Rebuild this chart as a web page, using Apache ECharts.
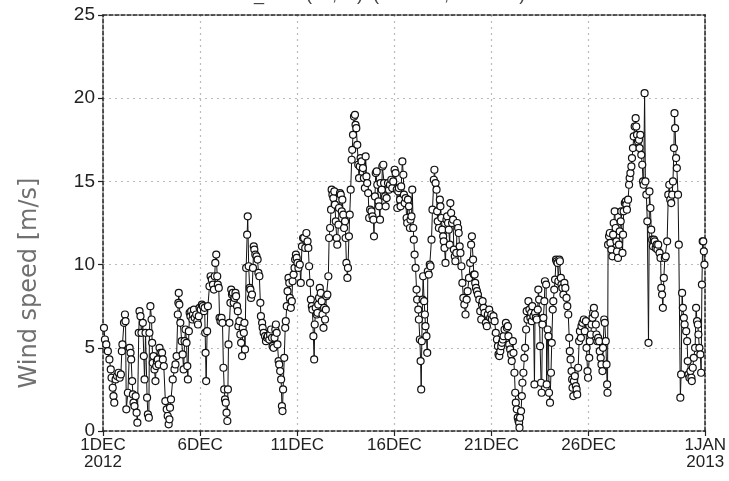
<!DOCTYPE html>
<html>
<head>
<meta charset="utf-8">
<script src="https://cdn.jsdelivr.net/npm/echarts@6/dist/echarts.min.js"></script>
<style>html,body{margin:0;padding:0;background:#fff;}#c{width:729px;height:481px;}</style>
</head>
<body>
<div id="c"></div>
<script>
// x: days since 1 DEC 2012 00Z, y: wind speed [m/s]
const tickDays = [0, 5, 10, 15, 20, 25, 31];
const tickLabels = ['1DEC\n2012', '6DEC', '11DEC', '16DEC', '21DEC', '26DEC', '1JAN\n2013'];
const speedTicks = [0, 5, 10, 15, 20, 25];
const titleText = 'CU_W 0. (32,39)  (33.9252, 32.5257)';
const yTitle = 'Wind speed [m/s]';

const week1 = [
[0.05,6.2],[0.1,5.5],[0.17,5.2],[0.25,4.8],[0.33,4.3],[0.4,3.7],[0.44,3.2],[0.5,2.6],[0.54,2.1],[0.58,1.7],
[0.65,3.1],[0.72,3.3],[0.8,3.5],[0.86,3.2],[0.92,3.4],[0.97,4.8],[1.0,5.2],[1.08,6.5],[1.13,7.0],[1.16,6.6],
[1.2,1.3],[1.28,2.3],[1.37,5.0],[1.42,4.7],[1.45,4.3],[1.5,3.0],[1.54,2.2],[1.57,1.7],[1.62,1.5],[1.68,2.1],[1.73,1.1],[1.77,0.5],
[1.84,5.9],[1.88,7.2],[1.93,6.9],[1.98,5.9],[2.05,6.5],[2.1,4.5],[2.14,3.1],[2.19,5.9],[2.27,2.0],[2.31,1.0],[2.36,0.8],
[2.39,5.9],[2.44,7.5],[2.5,6.7],[2.53,5.3],[2.56,4.1],[2.6,4.5],[2.65,3.7],[2.7,3.0],[2.74,3.9],[2.77,4.2],[2.82,4.3],[2.87,4.0],[2.91,5.0],[2.96,4.7],[3.04,4.7],[3.08,4.3],[3.13,3.9],
[3.21,1.8],[3.28,1.3],[3.33,0.9],[3.38,0.4],[3.42,0.7],[3.45,1.4],[3.5,1.9],
[3.59,3.1],[3.68,3.7],[3.73,4.0],[3.79,4.5],[3.85,7.0],[3.88,7.7],[3.9,8.3],[3.93,7.6],[3.98,6.5],[4.05,5.4],[4.1,4.6],[4.15,3.7],[4.2,5.4],[4.25,6.1],[4.3,5.3],[4.34,3.9],[4.37,3.1],
[4.42,6.0],[4.46,7.1],[4.5,6.9],[4.54,7.2],[4.6,6.7],[4.63,7.0],[4.68,7.3],[4.72,6.8],[4.8,7.0],[4.85,6.6],[4.89,6.4],[4.93,6.9],[4.97,7.4],[5.03,7.3],[5.09,7.6],[5.14,7.5],[5.2,7.2],[5.23,7.4],
[5.26,5.9],[5.28,4.7],[5.31,3.0],[5.36,6.0],[5.4,7.5],[5.48,8.7],[5.54,9.3],[5.6,9.1],[5.66,8.8],[5.71,8.5],[5.75,9.3],[5.78,10.1],[5.83,10.6],[5.88,9.3],[5.91,8.8],[5.96,8.6],
[6.0,6.8],[6.05,6.6],[6.1,6.8],[6.15,6.5],[6.2,3.8],[6.24,2.5],[6.28,1.9],[6.32,1.7],[6.36,1.1],[6.4,0.6],
[6.43,2.5],[6.46,5.2],[6.51,6.5],[6.56,7.7],[6.6,8.5],[6.64,8.2],[6.68,8.3],[6.73,7.7],[6.77,8.0],[6.82,8.3],[6.85,8.1],[6.9,7.5],[6.94,7.2],[6.97,6.3]
];
const week2 = [
[7.02,6.6],[7.07,5.8],[7.11,5.3],[7.16,4.5],[7.19,6.2],[7.25,5.9],[7.28,6.5],[7.31,4.9],
[7.37,9.8],[7.42,11.8],[7.45,12.9],[7.5,9.9],[7.55,8.6],[7.59,8.5],[7.62,8.0],[7.67,8.2],[7.72,9.8],[7.76,11.1],[7.79,10.9],[7.84,10.6],[7.9,10.5],[7.96,10.3],[8.0,9.5],[8.05,9.3],[8.1,7.7],[8.13,6.9],[8.19,6.5],[8.22,6.2],[8.27,5.9],[8.34,5.7],[8.39,5.4],[8.44,5.6],[8.48,5.7],[8.56,5.5],[8.6,5.8],[8.65,6.1],[8.7,5.6],[8.73,5.1],
[8.78,5.0],[8.83,5.6],[8.87,6.1],[8.9,6.4],[8.94,5.9],[8.98,5.2],[9.04,4.2],[9.07,4.0],[9.12,3.6],[9.17,3.1],[9.21,1.5],[9.24,1.2],[9.27,2.5],
[9.33,4.4],[9.38,6.2],[9.41,6.6],[9.46,7.5],[9.5,8.4],[9.55,9.2],[9.59,8.9],[9.62,8.0],[9.67,7.4],[9.72,7.8],[9.76,9.0],[9.81,9.4],[9.86,9.8],[9.89,10.3],[9.93,10.6],[9.97,10.4],[10.01,10.1],[10.06,9.8],[10.13,10.0],[10.18,8.9],[10.24,11.1],[10.3,11.6],[10.35,11.6],[10.41,11.0],[10.47,11.9],[10.53,11.4],[10.57,11.0],[10.61,9.9],[10.66,8.9],[10.7,7.9],[10.75,7.5],[10.78,7.3],[10.83,5.7],[10.87,4.3],
[10.9,6.4],[10.95,7.4],[11.0,7.0],[11.04,7.1],[11.08,7.6],[11.12,8.0],[11.16,8.6],[11.21,8.3],[11.26,7.8],[11.3,7.0],[11.35,6.2],[11.38,7.4],[11.43,6.7],[11.47,7.3],[11.5,8.1],[11.55,8.2],[11.6,9.3],[11.64,11.6],[11.69,12.2],[11.74,13.3],[11.77,14.5],
[11.81,14.2],[11.86,14.0],[11.91,14.4],[11.94,13.6],[11.98,12.6],[12.03,11.6],[12.06,11.2],[12.12,12.4],[12.15,13.4],[12.2,14.3],[12.24,14.2],[12.29,13.2],[12.32,13.9],[12.37,13.0],[12.41,12.2],[12.46,12.6],[12.49,11.6],[12.53,10.1],[12.58,9.2],[12.61,9.8],
[12.66,11.7],[12.7,13.0],[12.75,14.5],[12.8,16.3],[12.83,16.9],[12.87,17.8],[12.92,18.9],[12.97,19.0],[13.0,18.4],[13.04,18.2],[13.09,17.2],[13.14,16.0],[13.18,15.2],[13.22,15.9],[13.26,16.4],[13.31,16.2],[13.38,15.8],[13.43,15.2],[13.48,14.6],
[13.52,16.5],[13.56,15.3],[13.6,14.9],[13.65,14.3],[13.7,12.8],[13.75,13.3],[13.82,13.2],[13.87,12.9],[13.92,12.7],[13.95,11.7]
];
const week3 = [
[14.0,14.1],[14.04,15.5],[14.09,15.6],[14.12,14.8],[14.18,13.8],[14.21,13.5],[14.26,12.7],[14.29,14.9],[14.35,14.5],[14.38,15.9],[14.43,16.0],[14.47,14.9],[14.52,14.1],[14.55,13.5],[14.6,14.0],[14.67,14.9],[14.72,14.5],[14.77,14.8],[14.84,15.1],[14.89,14.6],[14.94,15.0],[15.01,15.7],[15.06,15.5],[15.12,14.5],[15.15,13.4],
[15.2,14.4],[15.23,14.6],[15.29,13.9],[15.32,13.5],[15.35,14.7],[15.41,16.2],[15.46,15.4],[15.49,14.2],[15.53,13.7],[15.58,14.0],[15.63,12.8],[15.66,12.5],[15.7,13.9],[15.75,13.5],[15.8,12.2],[15.83,12.7],[15.88,12.9],[15.92,14.5],
[15.97,12.2],[16.0,11.5],[16.04,10.6],[16.09,9.8],[16.14,8.5],[16.17,7.9],[16.23,7.3],[16.26,6.7],[16.31,5.5],[16.35,4.2],[16.38,2.5],
[16.41,5.4],[16.45,7.9],[16.48,9.3],[16.53,7.8],[16.57,7.0],[16.6,6.3],[16.65,5.7],[16.69,4.7],[16.72,9.6],[16.77,9.4],[16.82,10.0],[16.86,9.9],[16.91,11.5],[16.96,13.3],[17.03,15.1],[17.06,15.7],
[17.12,14.9],[17.17,14.5],[17.2,13.2],[17.23,12.6],[17.29,12.2],[17.34,13.9],[17.37,13.5],[17.42,12.8],[17.46,12.1],[17.51,11.7],[17.54,11.4],[17.58,11.0],[17.63,10.1],[17.68,12.7],[17.71,12.9],[17.76,12.5],[17.8,12.1],[17.85,11.2],[17.88,13.7],[17.92,13.1],[17.97,12.5],[18.02,12.7],[18.06,10.9],[18.11,10.5],[18.14,10.2],[18.19,10.7],[18.23,12.5],[18.28,12.2],[18.31,11.9],[18.36,11.1],[18.4,10.7],
[18.45,9.9],[18.5,8.9],[18.55,8.0],[18.6,7.6],[18.66,7.0],[18.72,7.9],[18.77,8.4],[18.84,9.2],[18.9,10.1],[18.95,11.2],[18.99,11.7],
[19.05,10.3],[19.09,9.4],[19.13,9.4],[19.16,8.9],[19.2,8.6],[19.25,8.4],[19.3,8.2],[19.37,7.9],[19.42,7.2],[19.47,6.7],[19.51,7.6],[19.54,7.8],[19.59,7.4],[19.64,7.1],[19.71,6.5],[19.76,6.3],[19.81,7.0],[19.88,7.3],[19.93,6.8],[19.99,7.0],[20.02,6.7],[20.1,6.9],[20.16,6.6],
[20.22,5.9],[20.28,5.5],[20.33,5.1],[20.36,4.6],[20.4,4.5],[20.45,4.8],[20.5,5.1],[20.53,5.3],[20.58,5.5],[20.62,5.7],[20.67,6.1],[20.74,6.5],[20.79,6.2],[20.84,6.3],[20.87,5.7],[20.91,5.2],[20.96,4.9]
];
const week4 = [
[21.01,4.6],[21.04,4.2],[21.1,5.4],[21.13,4.7],[21.18,3.5],[21.22,2.3],[21.25,1.7],[21.3,1.3],[21.35,0.8],[21.39,0.6],[21.42,0.5],[21.44,0.2],[21.47,0.8],[21.52,1.2],[21.56,2.1],[21.59,2.9],[21.64,3.5],[21.69,4.4],[21.73,5.0],[21.78,6.1],[21.81,7.2],
[21.85,6.7],[21.9,7.8],[21.95,7.3],[22.0,6.8],[22.04,7.1],[22.07,6.6],[22.1,7.5],[22.16,6.9],[22.21,2.8],[22.24,7.1],[22.28,6.8],[22.33,6.7],[22.38,7.3],[22.41,8.5],[22.45,7.9],[22.5,5.1],[22.55,2.9],[22.58,2.3],[22.62,6.4],[22.67,6.8],[22.72,7.8],[22.75,9.0],[22.81,8.8],[22.84,2.8],[22.89,6.1],[22.93,5.7],[22.96,2.3],[23.01,1.7],[23.06,3.5],[23.1,5.3],[23.15,7.3],[23.18,7.8],[23.23,8.5],[23.27,9.1],[23.32,10.3],[23.35,10.2],[23.4,10.1],
[23.44,9.0],[23.49,10.3],[23.52,10.2],[23.57,9.2],[23.6,8.8],[23.65,8.6],[23.7,8.2],[23.75,8.9],[23.8,8.6],[23.86,8.0],[23.9,7.5],[23.95,7.0],[24.0,5.6],[24.03,4.8],[24.07,4.3],[24.12,3.6],[24.15,3.1],[24.17,2.6],[24.21,2.1],[24.24,3.0],[24.29,3.3],[24.34,2.7],[24.38,2.5],[24.41,2.2],
[24.46,3.8],[24.51,5.4],[24.55,6.0],[24.6,5.6],[24.63,6.3],[24.68,6.5],[24.75,6.7],[24.8,6.0],[24.86,6.6],[24.89,5.0],[24.94,3.6],[24.97,3.2],[25.03,4.4],[25.06,5.4],[25.11,5.8],[25.15,6.4],[25.2,6.8],[25.23,7.1],[25.27,7.4],[25.32,7.0],[25.37,6.4],[25.4,5.8],[25.45,5.4],[25.49,5.6],[25.54,5.4],[25.57,4.8],[25.62,4.4],[25.66,4.0],[25.71,3.6],[25.74,5.0],[25.8,6.7],[25.83,6.5],[25.88,5.4],[25.92,4.0],[25.95,2.8],[25.97,2.3],
[26.0,11.2],[26.05,11.7],[26.09,11.9],[26.12,11.3],[26.17,10.9],[26.22,10.5],[26.26,11.8],[26.29,12.5],[26.34,13.2],[26.39,12.2],[26.43,11.4],[26.46,10.8],[26.51,10.4],[26.56,11.2],[26.6,12.0],[26.65,12.6],[26.68,13.2],[26.74,10.7],[26.77,11.8],[26.8,13.2],[26.86,13.7],[26.91,13.8],[26.94,13.6],[26.97,13.3],
[27.03,13.9],[27.08,14.8],[27.11,15.2],[27.15,15.5],[27.2,15.9],[27.23,16.4],[27.28,17.0],[27.32,17.7],[27.37,18.3],[27.42,18.8],[27.45,18.3],[27.49,17.8],[27.54,17.4],[27.59,17.5],[27.62,17.0],[27.66,17.8],[27.71,16.6],[27.76,16.0],[27.8,15.0],[27.83,14.8],[27.88,20.3],[27.92,15.0],[27.97,14.2]
];
const week5 = [
[28.02,12.6],[28.08,5.3],[28.13,14.4],[28.18,13.4],[28.22,12.1],[28.27,11.5],[28.31,11.1],[28.36,11.5],[28.4,11.4],[28.45,11.0],[28.5,11.2],[28.54,10.9],[28.58,11.2],[28.65,10.7],[28.7,10.4],[28.74,8.6],[28.78,8.2],[28.82,7.4],[28.87,9.2],[28.92,10.4],[28.97,10.5],
[29.04,11.4],[29.1,14.2],[29.15,14.8],[29.2,13.9],[29.25,13.7],[29.3,14.2],[29.34,15.0],[29.39,17.0],[29.42,19.1],[29.45,18.2],[29.5,16.4],[29.54,15.8],[29.6,14.2],[29.64,11.2],[29.72,2.0],[29.76,3.4],[29.81,8.3],[29.85,7.4],[29.9,6.8],[29.94,6.4],
[30.02,6.0],[30.07,5.4],[30.1,4.2],[30.14,3.4],[30.19,3.2],[30.24,3.6],[30.29,3.2],[30.31,3.0],[30.36,3.8],[30.41,4.4],[30.48,5.0],[30.53,7.4],[30.58,6.6],[30.62,6.4],[30.65,5.8],[30.7,5.0],[30.75,4.6],[30.79,3.5],[30.83,8.8],[30.87,11.4],[30.9,11.4],[30.93,10.8],[30.96,10.0]
];

const allData = [].concat(week1, week2, week3, week4, week5);
const font = 'Liberation Sans, Arial, sans-serif';
const frameLine = { show: true, onZero: false, lineStyle: { color: '#222', width: 1.5, type: [4, 2] } };

const chart = echarts.init(document.getElementById('c'), null, { renderer: 'canvas' });
chart.setOption({
  animation: false,
  backgroundColor: '#fff',
  grid: { left: 103, right: 22, top: 15, bottom: 50, containLabel: false },
  graphic: [
    { type: 'text', left: 228, top: -14, style: { text: titleText, font: '18px ' + font, fill: '#444' } },
    { type: 'text', x: 30, y: 283, rotation: Math.PI / 2,
      style: { text: yTitle, font: '24px DejaVu Sans, sans-serif', fill: '#707070', align: 'center', verticalAlign: 'middle' } }
  ],
  xAxis: [{
    type: 'value', min: 0, max: 31, position: 'bottom',
    axisLine: frameLine,
    axisTick: { show: true, customValues: tickDays, length: 5, inside: false, lineStyle: { color: '#222', width: 1.2 } },
    axisLabel: { customValues: tickDays, color: '#222', fontSize: 17, fontFamily: font, lineHeight: 17, margin: 6,
      formatter: v => tickLabels[tickDays.indexOf(v)] || '' },
    splitLine: { show: true, lineStyle: { color: '#bbb', type: [2, 4], width: 1.2 } }
  }, {
    type: 'value', min: 0, max: 31, position: 'top',
    axisLine: frameLine, axisTick: { show: false }, axisLabel: { show: false }, splitLine: { show: false }
  }],
  yAxis: [{
    type: 'value', min: 0, max: 25, interval: 5, position: 'left',
    axisLine: frameLine,
    axisTick: { show: true, length: 5, lineStyle: { color: '#222', width: 1.2 } },
    axisLabel: { color: '#222', fontSize: 19, fontFamily: font, margin: 8,
      formatter: v => speedTicks.includes(v) ? String(v) : '' },
    splitLine: { show: true, lineStyle: { color: '#bbb', type: [2, 4], width: 1.2 } }
  }, {
    type: 'value', min: 0, max: 25, position: 'right',
    axisLine: frameLine, axisTick: { show: false }, axisLabel: { show: false }, splitLine: { show: false }
  }],
  series: [{
    type: 'line', xAxisIndex: 0, yAxisIndex: 0, data: allData,
    symbol: 'circle', symbolSize: 7, showAllSymbol: true,
    lineStyle: { color: '#111', width: 1 },
    itemStyle: { color: '#fff', borderColor: '#111', borderWidth: 1.2 },
    z: 3
  }]
});
</script>
</body>
</html>
